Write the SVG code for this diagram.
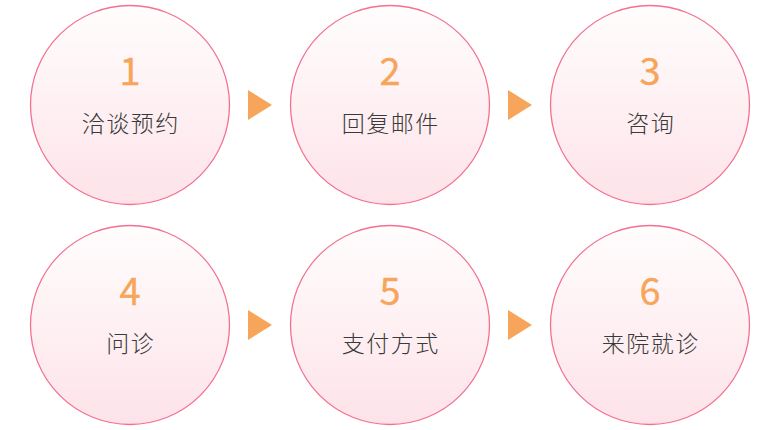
<svg xmlns="http://www.w3.org/2000/svg" width="780" height="430" viewBox="0 0 780 430">
<defs>
<linearGradient id="g" x1="0" y1="0" x2="0" y2="1">
<stop offset="0" stop-color="#fffdfd"/>
<stop offset="1" stop-color="#fde3e9"/>
</linearGradient>
<style>
.c{fill:url(#g);stroke:#f4708f;stroke-width:1.3}
.n{font-family:"Noto Sans CJK SC","Noto Sans",sans-serif;font-size:38px;fill:#f7a55a;stroke:#f7a55a;stroke-width:0.35px;text-anchor:middle;font-weight:400}
.t{font-family:"Noto Sans CJK SC",sans-serif;font-size:23px;fill:#3a3a3a;text-anchor:middle;font-weight:300;letter-spacing:1.5px}
.a{fill:#f7a55a}
</style>
</defs>
<rect width="780" height="430" fill="#ffffff"/>
<g id="node1"><circle class="c" cx="130" cy="105" r="99.5"/><text class="n" x="130" y="85">1</text><text class="t" x="130.7" y="132">洽谈预约</text></g>
<g id="node2"><circle class="c" cx="390" cy="105" r="99.5"/><text class="n" x="390" y="85">2</text><text class="t" x="390.7" y="132">回复邮件</text></g>
<g id="node3"><circle class="c" cx="650" cy="105" r="99.5"/><text class="n" x="650" y="85">3</text><text class="t" x="650.7" y="132">咨询</text></g>
<g id="node4"><circle class="c" cx="130" cy="325" r="99.5"/><text class="n" x="130" y="305">4</text><text class="t" x="130.7" y="352">问诊</text></g>
<g id="node5"><circle class="c" cx="390" cy="325" r="99.5"/><text class="n" x="390" y="305">5</text><text class="t" x="390.7" y="352">支付方式</text></g>
<g id="node6"><circle class="c" cx="650" cy="325" r="99.5"/><text class="n" x="650" y="305">6</text><text class="t" x="650.7" y="352">来院就诊</text></g>
<g id="connectors">
<polygon class="a" points="248,90 272,105 248,120"/>
<polygon class="a" points="508,90 532,105 508,120"/>
<polygon class="a" points="248,310 272,325 248,340"/>
<polygon class="a" points="508,310 532,325 508,340"/>
</g>
</svg>
